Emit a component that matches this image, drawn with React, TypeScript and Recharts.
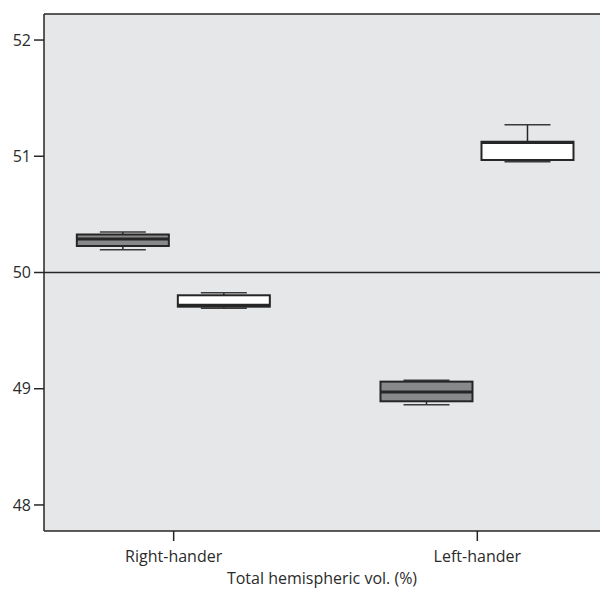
import React from "react";
import {
  ComposedChart,
  Bar,
  XAxis,
  YAxis,
  CartesianGrid,
  ReferenceLine,
} from "recharts";

// groups on the x axis
const CATEGORIES = ["Right-hander", "Left-hander"];

// dark (gray) boxes: whisker low, q1, median, q3, whisker high
const GRAY_MIN = [50.196, 48.863];
const GRAY_Q1 = [50.228, 48.892];
const GRAY_MEDIAN = [50.288, 48.972];
const GRAY_Q3 = [50.327, 49.061];
const GRAY_MAX = [50.348, 49.073];

// white boxes
const WHITE_MIN = [49.692, 50.953];
const WHITE_Q1 = [49.706, 50.968];
const WHITE_MEDIAN = [49.718, 51.118];
const WHITE_Q3 = [49.804, 51.125];
const WHITE_MAX = [49.826, 51.271];

const Y_TICKS = [48, 49, 50, 51, 52];
const Y_MIN = 47.776;
const Y_MAX = 52.224;
const X_MIN = -0.427;
const X_MAX = 1.404;

const INK = "#262626";
const BG = "#e6e7e9";

const rows = CATEGORIES.map((name, i) => ({
  x: i,
  name,
  gray: [GRAY_MIN[i], GRAY_MAX[i]],
  grayStats: {
    min: GRAY_MIN[i],
    q1: GRAY_Q1[i],
    median: GRAY_MEDIAN[i],
    q3: GRAY_Q3[i],
    max: GRAY_MAX[i],
  },
  white: [WHITE_MIN[i], WHITE_MAX[i]],
  whiteStats: {
    min: WHITE_MIN[i],
    q1: WHITE_Q1[i],
    median: WHITE_MEDIAN[i],
    q3: WHITE_Q3[i],
    max: WHITE_MAX[i],
  },
}));

function BoxShape(props: any) {
  const { x, y, width, height, stats, boxFill } = props;
  if (!stats || height == null) return null;
  const span = stats.max - stats.min;
  // linear: y is max, y + height is min
  const py = (v: number) => y + ((stats.max - v) / span) * height;
  const cx = x + width / 2;
  const capHalf = width / 4;
  return (
    <g>
      <line x1={cx} x2={cx} y1={py(stats.max)} y2={py(stats.q3)} stroke={INK} strokeWidth={1.5} />
      <line x1={cx} x2={cx} y1={py(stats.q1)} y2={py(stats.min)} stroke={INK} strokeWidth={1.5} />
      <line x1={cx - capHalf} x2={cx + capHalf} y1={py(stats.max)} y2={py(stats.max)} stroke="#3a3a3a" strokeWidth={1.5} />
      <line x1={cx - capHalf} x2={cx + capHalf} y1={py(stats.min)} y2={py(stats.min)} stroke="#3a3a3a" strokeWidth={1.5} />
      <rect
        x={x}
        y={py(stats.q3)}
        width={width}
        height={py(stats.q1) - py(stats.q3)}
        fill={boxFill}
        stroke={INK}
        strokeWidth={2}
      />
      <line x1={x} x2={x + width} y1={py(stats.median)} y2={py(stats.median)} stroke={INK} strokeWidth={3} />
    </g>
  );
}

export default function App() {
  return (
    <div style={{ position: "absolute", left: 0, top: 0, fontFamily: "'Open Sans', sans-serif" }}>
      <ComposedChart
        width={600}
        height={590}
        data={rows}
        margin={{ top: 14, right: 0, bottom: 0, left: 0 }}
        barGap={9}
      >
        <CartesianGrid horizontal={false} vertical={false} fill={BG} />
        <XAxis
          type="number"
          dataKey="x"
          domain={[X_MIN, X_MAX]}
          ticks={[0, 1]}
          allowDataOverflow
          tickFormatter={(v: number) => CATEGORIES[v] ?? ""}
          height={59}
          tickSize={10}
          tickMargin={10}
          axisLine={{ stroke: INK, strokeWidth: 1.5 }}
          tickLine={{ stroke: INK, strokeWidth: 1.5 }}
          tick={{ fill: "#2b2b2b", fontSize: 16 }}
          label={{
            value: "Total hemispheric vol. (%)",
            position: "insideBottom",
            offset: 6,
            fill: "#2b2b2b",
            fontSize: 16,
          }}
        />
        <YAxis
          type="number"
          domain={[Y_MIN, Y_MAX]}
          ticks={Y_TICKS}
          allowDataOverflow
          width={44}
          tickSize={10}
          tickMargin={3}
          axisLine={{ stroke: INK, strokeWidth: 1.5 }}
          tickLine={{ stroke: INK, strokeWidth: 1.5 }}
          tick={{ fill: "#2b2b2b", fontSize: 16 }}
        />
        <ReferenceLine y={Y_MAX} stroke={INK} strokeWidth={1.5} />
        <ReferenceLine y={50} stroke={INK} strokeWidth={1.5} />
        <Bar
          dataKey="gray"
          barSize={92}
          isAnimationActive={false}
          shape={(p: any) => <BoxShape {...p} stats={p.payload?.grayStats} boxFill="#88898b" />}
        />
        <Bar
          dataKey="white"
          barSize={92}
          isAnimationActive={false}
          shape={(p: any) => <BoxShape {...p} stats={p.payload?.whiteStats} boxFill="#ffffff" />}
        />
      </ComposedChart>
    </div>
  );
}
